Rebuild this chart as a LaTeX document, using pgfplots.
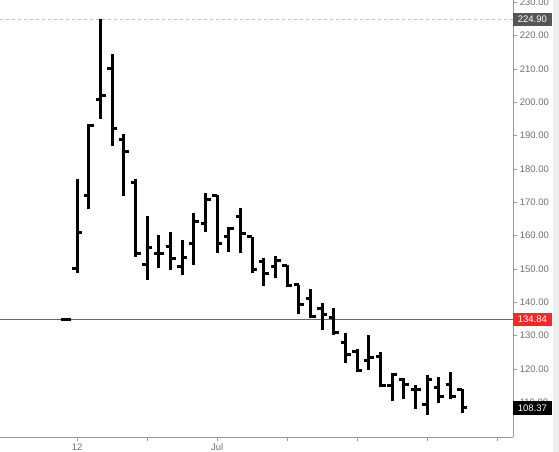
\documentclass[border=0pt]{standalone}
\usepackage{fontspec}
\setmainfont{Liberation Sans}
\usepackage{pgfplots}
\pgfplotsset{compat=1.18}
\usepackage{pgfplotstable}

\definecolor{axisgray}{HTML}{9A9A9A}
\definecolor{labelgray}{HTML}{707070}
\definecolor{hiline}{HTML}{C4C4C4}
\definecolor{hibox}{HTML}{555555}
\definecolor{refred}{HTML}{FF2626}
\definecolor{sidebg}{HTML}{EFEFEF}

% open tick to the left, close tick to the right
\pgfdeclareplotmark{openleft}{%
  \pgfpathmoveto{\pgfqpoint{-5pt}{0pt}}%
  \pgfpathlineto{\pgfqpoint{0pt}{0pt}}%
  \pgfusepathqstroke}
\pgfdeclareplotmark{closeright}{%
  \pgfpathmoveto{\pgfqpoint{0pt}{0pt}}%
  \pgfpathlineto{\pgfqpoint{5pt}{0pt}}%
  \pgfusepathqstroke}

% i open high low close
\pgfplotstableread{
i  o      h      l      c
-1 134.84 134.84 134.84 134.84
0  150.2  177.0  148.9  161.0
1  171.9  193.5  167.9  192.9
2  200.8  224.9  195.0  202.0
3  210.0  214.5  187.0  192.2
4  188.7  190.5  171.9  185.2
5  176.0  177.0  153.7  154.5
6  151.2  166.0  146.8  156.5
7  154.5  160.2  150.2  154.7
8  156.7  161.2  149.7  153.2
9  150.7  158.7  148.2  153.5
10 157.5  166.7  151.2  164.2
11 163.7  172.9  161.2  170.9
12 172.0  172.2  154.7  157.7
13 159.7  162.7  155.2  162.2
14 165.7  168.2  154.7  160.7
15 159.7  159.7  148.7  149.9
16 152.2  153.2  144.9  148.7
17 150.7  153.9  147.2  152.4
18 150.9  151.2  144.5  144.9
19 145.2  145.2  136.5  139.2
20 141.0  143.9  135.2  135.6
21 138.0  139.7  131.7  136.2
22 135.5  138.2  130.2  131.0
23 128.0  130.7  121.7  124.4
24 125.2  125.9  119.2  119.5
25 122.5  130.2  119.7  123.5
26 123.7  125.2  114.7  114.9
27 114.9  118.7  110.5  118.2
28 116.7  117.2  110.9  115.2
29 113.9  115.2  107.9  113.7
30 109.2  118.2  106.2  116.7
31 114.5  117.7  109.7  111.7
32 115.2  119.2  110.9  111.7
33 113.7  113.9  106.9  108.37
}\ohlc

\begin{document}
\begin{tikzpicture}
\begin{axis}[
    scale only axis,
    width=513.3pt, height=437.5pt,
    xmin=-6.62, xmax=37.38,
    ymin=99.45, ymax=230.69,
    axis x line*=bottom,
    axis y line*=right,
    axis line style={axisgray, line width=1.2pt, -},
    xtick={0,6,12,18,24,30,36},
    xticklabels={12,,Jul,,,,},
    ytick={110,120,...,230},
    yticklabel={\pgfmathprintnumber[fixed,fixed zerofill,precision=2]{\tick}},
    tick align=outside,
    major tick length=4pt,
    tick style={axisgray, line width=0.8pt},
    ticklabel style={font=\fontsize{9.5}{11}\selectfont, text=labelgray},
    /pgf/number format/assume math mode=true,
    yticklabel style={xshift=-1pt},
    xticklabel style={yshift=1pt},
]
% reference lines: dashed high, red band at 134.84
\addplot[color=hiline, line width=0.8pt, dash pattern=on 3pt off 3pt, mark=none]
    coordinates {(-6.62,224.9) (37.38,224.9)};
\addplot[fill=refred, draw=none, mark=none]
    coordinates {(-6.62,134.6) (37.38,134.6) (37.38,135.08) (-6.62,135.08)};
% high-low range
\addplot[draw=none, mark=none,
    error bars/.cd, y dir=plus, y explicit, error mark=none,
    error bar style={draw=black, line width=3.2pt}]
    table[x=i, y=l, y error expr=\thisrow{h}-\thisrow{l}] {\ohlc};
% open and close ticks
\addplot[only marks, mark=openleft, mark options={draw=black, line width=3pt}]
    table[x=i, y=o] {\ohlc};
\addplot[only marks, mark=closeright, mark options={draw=black, line width=3pt}]
    table[x=i, y=c] {\ohlc};
\coordinate (hiv) at (axis cs:37.38,224.9);
\coordinate (rv) at (axis cs:37.38,134.84);
\coordinate (lv) at (axis cs:37.38,108.37);
\end{axis}
\fill[sidebg] (553pt,-14.5pt) rectangle (559pt,437.5pt);
\begin{scope}[every node/.style={anchor=west, text=white, inner xsep=5pt,
    inner ysep=0pt, minimum height=13.5pt, font=\fontsize{9.5}{11}\selectfont}]
\node[fill=hibox] at ([xshift=-0.6pt]hiv) {224.90};
\node[fill=refred] at ([xshift=-0.6pt]rv) {134.84};
\node[fill=black] at ([xshift=-0.6pt]lv) {108.37};
\end{scope}
\pgfresetboundingbox
\path[use as bounding box] (0pt,-14.5pt) rectangle (559pt,437.5pt);
\end{tikzpicture}
\end{document}
